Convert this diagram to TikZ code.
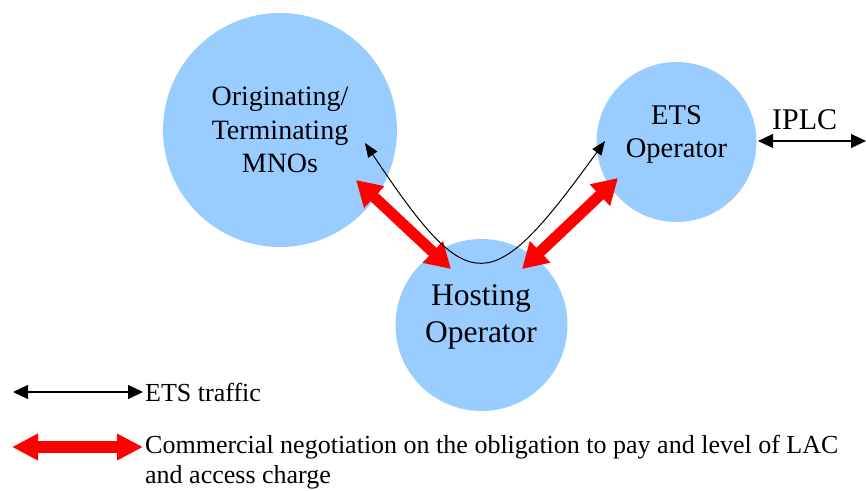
\documentclass[tikz,border=0pt]{standalone}
\usepackage{fontspec}
\setmainfont{Liberation Serif}
\usetikzlibrary{arrows.meta}
\definecolor{bubblecol}{HTML}{99CCFF}
\begin{document}
\begin{tikzpicture}[x=1pt,y=-1pt,
  bubble/.style={circle,fill=bubblecol,draw=none,inner sep=0pt},
  lbl/.style={align=center,inner sep=0pt},
  traffic/.style={black,line width=1pt,{Triangle[length=14pt,width=11pt]}-{Triangle[length=14pt,width=11pt]}},
  trafficbig/.style={black,line width=1.2pt,{Triangle[length=15pt,width=14pt]}-{Triangle[length=15pt,width=14pt]}},
  nego/.style={red,line width=11pt,{Triangle[length=25pt,width=28pt]}-{Triangle[length=25pt,width=28pt]}},
  negolegend/.style={red,line width=12pt,{Triangle[length=26pt,width=25pt]}-{Triangle[length=26pt,width=25pt]}},
  legendtext/.style={inner sep=0pt,font=\fontsize{26}{30}\selectfont}]
\useasboundingbox (0,0) rectangle (866,490);
% circles
\node[bubble,minimum size=234pt] (mno) at (280,130) {};
\node[bubble,minimum size=160pt] (ets) at (676.5,142) {};
\node[bubble,minimum size=172pt] (host) at (481.5,325) {};
% connector end points
\coordinate (mnoT) at (365,143);
\coordinate (etsT) at (605,141);
\coordinate (mnoR) at (356,180);
\coordinate (hostRL) at (451,269);
\coordinate (hostRR) at (522,269);
\coordinate (etsR) at (618,178);
\coordinate (iplcL) at (758,141);
\coordinate (iplcR) at (866,141);
% negotiation arrows
\draw[nego] (mnoR) -- (hostRL);
\draw[nego] (etsR) -- (hostRR);
% ETS traffic curve
\draw[traffic] (mnoT) .. controls (470,300) and (490,300) .. (etsT);
% IPLC
\draw[trafficbig] (iplcL) -- (iplcR);
\node[anchor=base west,inner sep=0pt,font=\fontsize{30}{36}\selectfont] (iplc) at (772,129) {IPLC};
% labels
\node[lbl,font=\fontsize{28}{33.5}\selectfont] (mnotext) at (280,130) {Originating/\\Terminating\\MNOs};
\node[lbl,font=\fontsize{28.5}{33}\selectfont] (etstext) at (676.5,135) {ETS\\Operator};
\node[lbl,font=\fontsize{31.5}{37}\selectfont] (hosttext) at (481,317.2) {Hosting\\Operator};
% legend
\coordinate (lega) at (13,392);
\coordinate (legb) at (143,392);
\coordinate (legc) at (12,447);
\coordinate (legd) at (143,447);
\draw[trafficbig] (lega) -- (legb);
\draw[negolegend] (legc) -- (legd);
\node[legendtext,anchor=base west] (trafficlbl) at (145,401) {ETS traffic};
\node[legendtext,anchor=north west,align=left] (negolbl) at (145,435.2) {Commercial negotiation on the obligation to pay and level of LAC\\and access charge};
\end{tikzpicture}
\end{document}
